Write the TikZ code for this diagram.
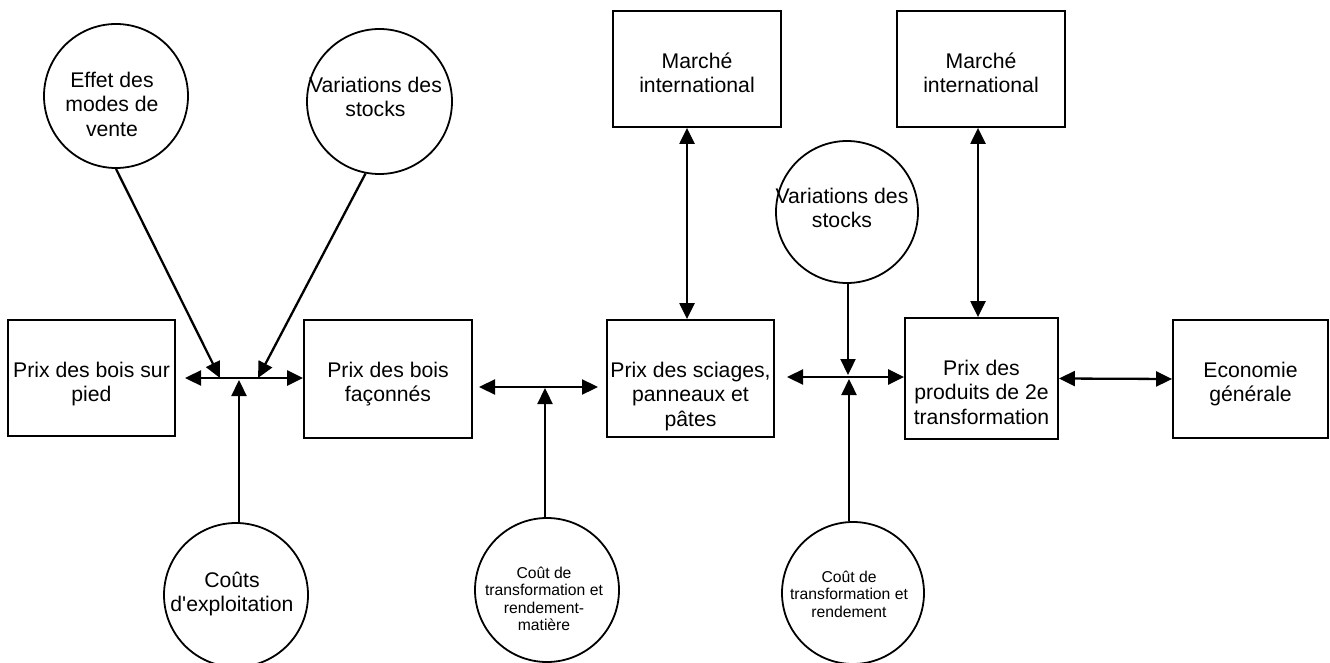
\documentclass[tikz,border=0pt]{standalone}
\usepackage{fontspec}
\setmainfont{Liberation Sans}
\usetikzlibrary{arrows.meta}
\newcommand{\firstln}{\rule{0pt}{20pt}}
\newcommand{\firstsm}{\rule{0pt}{15pt}}
\begin{document}
\begin{tikzpicture}[x=1pt,y=-1pt,
  box/.style={draw, line width=1.8pt, rectangle, inner sep=0pt},
  circ/.style={draw, line width=1.8pt, circle, inner sep=0pt},
  big/.style={font=\fontsize{21.2}{24.5}\selectfont, align=center, inner sep=0pt, anchor=north},
  small/.style={font=\fontsize{15.7}{17.5}\selectfont, align=center, inner sep=0pt, anchor=north},
  tip/.style={},
  arr/.style={line width=2.3pt, -{Triangle[length=16pt,width=15pt]}},
  dbl/.style={line width=2.3pt, {Triangle[length=16pt,width=15pt]}-{Triangle[length=16pt,width=15pt]}},
]
\useasboundingbox (0,0) rectangle (1330,663);

% boxes
\node[box, minimum width=167pt, minimum height=116pt] (b1) at (91.5,378) {};
\node[box, minimum width=168pt, minimum height=118pt] (b2) at (388,379) {};
\node[box, minimum width=167pt, minimum height=117pt] (b3) at (690.5,378.5) {};
\node[box, minimum width=153pt, minimum height=121pt] (b4) at (981.5,378.5) {};
\node[box, minimum width=155pt, minimum height=118pt] (b5) at (1250.5,379) {};
\node[box, minimum width=168pt, minimum height=116pt] (m1) at (697,69) {};
\node[box, minimum width=168pt, minimum height=116pt] (m2) at (981,69) {};

\node[big] (b1t) at ([yshift=-38pt]b1.north) {\firstln Prix des bois sur\\pied};
\node[big] (b2t) at ([yshift=-38pt]b2.north) {\firstln Prix des bois\\façonnés};
\node[big] (b3t) at ([yshift=-38pt]b3.north) {\firstln Prix des sciages,\\panneaux et\\pâtes};
\node[big] (b4t) at ([yshift=-38pt]b4.north) {\firstln Prix des\\produits de 2e\\transformation};
\node[big] (b5t) at ([yshift=-38pt]b5.north) {\firstln Economie\\générale};
\node[big] (m1t) at ([yshift=-38pt]m1.north) {\firstln Marché\\international};
\node[big] (m2t) at ([yshift=-38pt]m2.north) {\firstln Marché\\international};

% circles
\node[circ, minimum size=144pt] (c1) at (116,96) {};
\node[circ, minimum size=145pt] (c2) at (379.5,101.5) {};
\node[circ, minimum size=142pt] (c3) at (847,212) {};
\node[circ, minimum size=144pt] (c4) at (236,595) {};
\node[circ, minimum size=144pt] (c5) at (547,590) {};
\node[circ, minimum size=142pt] (c6) at (853,593) {};

\node[big] (c1t) at ([xshift=-4pt,yshift=-44pt]c1.north) {\firstln Effet des\\modes de\\vente};
\node[big] (c2t) at ([xshift=-4pt,yshift=-44pt]c2.north) {\firstln Variations des\\stocks};
\node[big] (c3t) at ([xshift=-5pt,yshift=-43pt]c3.north) {\firstln Variations des\\stocks};
\node[big] (c4t) at ([xshift=-4pt,yshift=-45pt]c4.north) {\firstln Coûts\\d\textquotesingle exploitation};
\node[small] (c5t) at ([xshift=-3pt,yshift=-46pt]c5.north) {\firstsm Coût de\\transformation et\\rendement-\\matière};
\node[small] (c6t) at ([xshift=-4pt,yshift=-46pt]c6.north) {\firstsm Coût de\\transformation et\\rendement};

% connectors, left group
\coordinate (l1) at (185,378);
\coordinate (j1a) at (220,378);
\coordinate (j1b) at (258,378);
\coordinate (j1c) at (239,380);
\draw[dbl] (l1) -- (b2.west |- l1);
\draw[arr] (c1.south) -- (j1a);
\draw[arr] (c2.-101) -- (j1b);
\draw[arr] (c4.north -| j1c) -- (j1c);

% box2 - box3
\coordinate (l2a) at (479,387);
\coordinate (l2b) at (598,387);
\coordinate (j2) at (545,388);
\draw[dbl] (l2a) -- (l2b);
\draw[arr] (c5.north -| j2) -- (j2);

% international markets
\coordinate (a1) at (687,0);
\coordinate (a2) at (978,0);
\draw[dbl] (m1.south -| a1) -- (b3.north -| a1);
\draw[dbl] (m2.south -| a2) -- (b4.north -| a2);

% middle group
\coordinate (l3) at (787,377);
\coordinate (j3a) at (848,375);
\coordinate (j3b) at (849,379);
\draw[dbl] (l3) -- (b4.west |- l3);
\draw[arr] (c3.south -| j3a) -- (j3a);
\draw[arr] (c6.north -| j3b) -- (j3b);

% box4 - box5
\draw[dbl] (b4.east) -- (b5.west);
\end{tikzpicture}
\end{document}
